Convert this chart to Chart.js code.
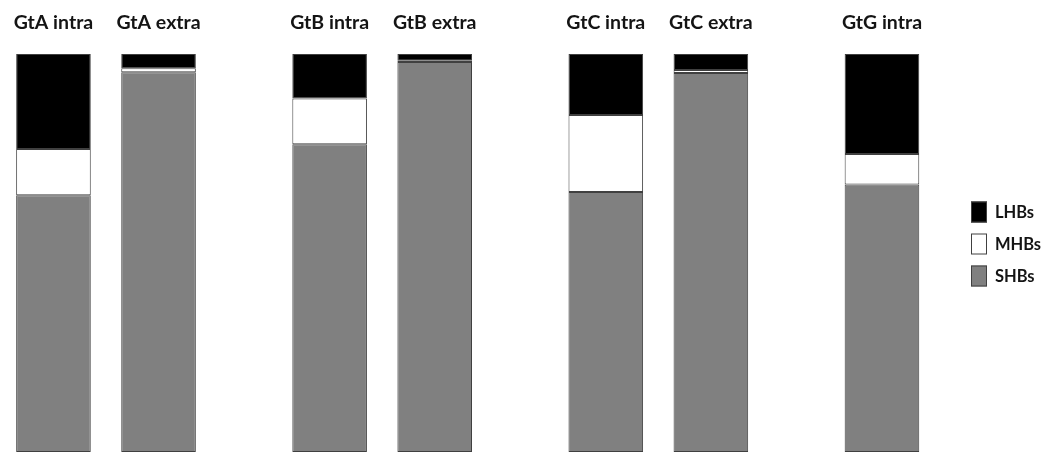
<!DOCTYPE html>
<html>
<head>
<meta charset="utf-8">
<script src="https://cdn.jsdelivr.net/npm/chart.js@4"></script>
<style>
  html, body { margin: 0; padding: 0; background: #fff; }
  #wrap { width: 1058px; height: 453px; position: relative; }
</style>
</head>
<body>
<div id="wrap"><canvas id="hbChart"></canvas></div>
<script>
// share of each H-bond class (%) per protein, intra / extra
const groups = ["GtA", "GtB", "GtC", "GtG"];
const kinds = ["intra", "extra"];
const segments = ["LHBs", "MHBs", "SHBs"];

const lhbIntra = [23.9, 11.2, 15.3, 25.1];
const mhbIntra = [11.6, 11.5, 19.4, 7.7];
const shbIntra = [64.5, 77.3, 65.3, 67.2];

const lhbExtra = [3.6, 1.7, 4.0, null];
const mhbExtra = [1.0, 0.3, 0.8, null];
const shbExtra = [95.4, 98.0, 95.2, null];

var segColors = { LHBs: "#000000", MHBs: "#ffffff", SHBs: "#808080" };
var edge = "#404040";

function ds(seg, kind, values) {
  return {
    label: seg + " " + kind,
    seg: seg,
    stack: kind,
    data: values,
    backgroundColor: segColors[seg],
    borderColor: edge,
    borderWidth: 1,
    borderSkipped: false,
    clip: false
  };
}

// bottom segment first so SHBs sit at the base
var datasets = [
  ds("SHBs", "intra", shbIntra),
  ds("MHBs", "intra", mhbIntra),
  ds("LHBs", "intra", lhbIntra),
  ds("SHBs", "extra", shbExtra),
  ds("MHBs", "extra", mhbExtra),
  ds("LHBs", "extra", lhbExtra)
];

var labelFont = "bold 19.5px Lato, 'Open Sans', sans-serif";

// names above each bar, e.g. "GtA intra"
var barNames = {
  id: "barNames",
  afterDatasetsDraw(chart) {
    var ctx = chart.ctx;
    ctx.save();
    ctx.font = labelFont;
    ctx.fillStyle = "#141414";
    ctx.textAlign = "center";
    ctx.textBaseline = "alphabetic";
    kinds.forEach(function (kind, k) {
      var meta = chart.getDatasetMeta(k * 3);
      meta.data.forEach(function (bar, i) {
        if (chart.data.datasets[k * 3].data[i] == null) return;
        ctx.fillText(groups[i] + " " + kind, bar.x, 29);
      });
    });
    ctx.restore();
  }
};

// legend on the right, LHBs on top
var sideLegend = {
  id: "sideLegend",
  afterDraw(chart) {
    var ctx = chart.ctx;
    ctx.save();
    ctx.font = "bold 16.5px Lato, 'Open Sans', sans-serif";
    ctx.textBaseline = "middle";
    ctx.textAlign = "left";
    segments.forEach(function (seg, i) {
      var cy = 212 + i * 32;
      ctx.fillStyle = segColors[seg];
      ctx.fillRect(971, cy - 10.5, 16, 21);
      ctx.strokeStyle = edge;
      ctx.lineWidth = 1;
      ctx.strokeRect(971.5, cy - 10, 15, 20);
      ctx.fillStyle = "#141414";
      ctx.fillText(seg, 995, cy + 1);
    });
    ctx.restore();
  }
};

new Chart("hbChart", {
  type: "bar",
  data: { labels: groups, datasets: datasets },
  options: {
    responsive: true,
    maintainAspectRatio: false,
    animation: false,
    categoryPercentage: 0.761,
    barPercentage: 0.71,
    layout: { padding: { left: 106, right: 123.5, top: 54, bottom: 1 } },
    scales: {
      x: { display: false, offset: false, stacked: true },
      y: { display: false, stacked: true, min: 0, max: 100 }
    },
    plugins: {
      legend: { display: false },
      tooltip: { enabled: false }
    }
  },
  plugins: [barNames, sideLegend]
});
</script>
</body>
</html>
